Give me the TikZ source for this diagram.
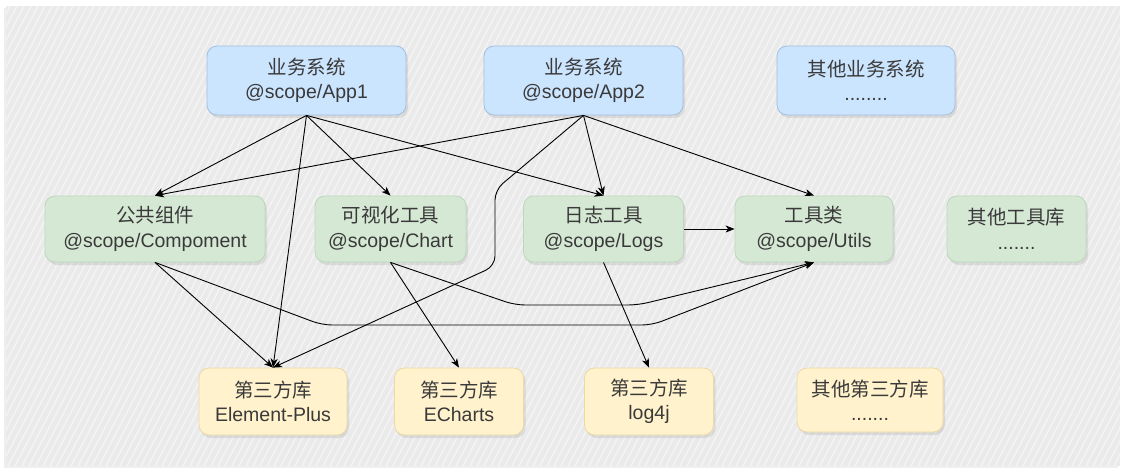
\documentclass[tikz,border=0pt]{standalone}
\usepackage{fontspec}
\setmainfont{Liberation Sans}
\newfontfamily\cjk{Noto Sans CJK SC}
\usetikzlibrary{arrows.meta, shadows}

\definecolor{appfill}{HTML}{CCE5FF}
\definecolor{appline}{HTML}{A3BFDF}
\definecolor{pkgfill}{HTML}{D5E8D4}
\definecolor{pkgline}{HTML}{BDD7BC}
\definecolor{libfill}{HTML}{FFF2CC}
\definecolor{libline}{HTML}{EBD9A6}
\definecolor{txt}{HTML}{3A3A3A}
\definecolor{panel}{HTML}{EAEAEA}

\tikzset{
	box/.style = {rounded corners = 10pt, inner sep = 0pt, align = center, text = txt,
		font = \fontsize{19.5}{24.5}\selectfont, line width = 0.8pt,
		drop shadow = {opacity = 0.18, shadow xshift = 2pt, shadow yshift = -3pt}},
	app/.style = {box, fill = appfill, draw = appline, minimum height = 69pt},
	pkg/.style = {box, fill = pkgfill, draw = pkgline, minimum height = 66pt},
	lib/.style = {box, fill = libfill, draw = libline, minimum height = 67pt},
	link/.style = {-{Stealth[length = 9pt, width = 7pt, inset = 2.5pt]}, line width = 0.9pt, rounded corners = 10pt}
}

\begin{document}
\begin{tikzpicture} [x = 1pt, y = -1pt]
	\useasboundingbox (0,0) rectangle (1131,473);
	\fill [white] (0,0) rectangle (1131,473);
	% panel with hatching
	\fill [panel, drop shadow = {opacity = 0.12, shadow xshift = -2pt, shadow yshift = -2pt}] (6,6) rectangle (1120,466);
	\begin{scope}
		\clip (6,6) rectangle (1120,466);
		\foreach \x in {-300,-293,...,1130}
			\draw [white, opacity = 0.45, line width = 1.6pt] (\x,466) -- (\x+240,6);
	\end{scope}
	% business systems
	\node [app, minimum width = 199pt] (app1) at (306.5,80.5) {{\cjk 业务系统}\\@scope/App1};
	\node [app, minimum width = 199pt] (app2) at (583.5,80.5) {{\cjk 业务系统}\\@scope/App2};
	\node [app, minimum width = 178pt] (appmore) at (866,80.5) {{\cjk 其他业务系统}\\........};
	% packages
	\node [pkg, minimum width = 220pt] (comp) at (155,229) {{\cjk 公共组件}\\@scope/Compoment};
	\node [pkg, minimum width = 151pt] (chart) at (390.5,229) {{\cjk 可视化工具}\\@scope/Chart};
	\node [pkg, minimum width = 160pt] (logs) at (603.5,229) {{\cjk 日志工具}\\@scope/Logs};
	\node [pkg, minimum width = 158pt] (utils) at (814,229) {{\cjk 工具类}\\@scope/Utils};
	\node [pkg, minimum width = 139pt] (toolmore) at (1016.5,229) {{\cjk 其他工具库}\\.......};
	% third party
	\node [lib, minimum width = 148pt] (elplus) at (273,401.5) {{\cjk 第三方库}\\Element-Plus};
	\node [lib, minimum width = 129pt] (echarts) at (459,401.5) {{\cjk 第三方库}\\ECharts};
	\node [lib, minimum width = 129pt] (logj) at (649,401.5) {{\cjk 第三方库}\\log4j};
	\node [lib, minimum width = 146pt, minimum height = 64pt] (libmore) at (870,400) {{\cjk 其他第三方库}\\.......};
	% bends
	\coordinate (bendA) at (495,190);
	\coordinate (bendB) at (495,266);
	\coordinate (bendC) at (322,325);
	\coordinate (bendD) at (652,325);
	\coordinate (bendE) at (515,305);
	\coordinate (bendF) at (638,305);
	% links
	\draw [link] (app1.south) -- (comp.north);
	\draw [link] (app1.south) -- (elplus.north);
	\draw [link] (app1.south) -- (chart.north);
	\draw [link] (app1.south) -- (logs.north);
	\draw [link] (app2.south) -- (comp.north);
	\draw [link] (app2.south) -- (bendA) -- (bendB) -- (elplus.north);
	\draw [link] (app2.south) -- (logs.north);
	\draw [link] (app2.south) -- (utils.north);
	\draw [link] (comp.south) -- (elplus.north);
	\draw [link] (comp.south) -- (bendC) -- (bendD) -- (utils.south);
	\draw [link] (chart.south) -- (echarts.north);
	\draw [link] (chart.south) -- (bendE) -- (bendF) -- (utils.south);
	\draw [link] (logs.south) -- (logj.north);
	\draw [link] (logs.east) -- (utils.west);
\end{tikzpicture}
\end{document}
